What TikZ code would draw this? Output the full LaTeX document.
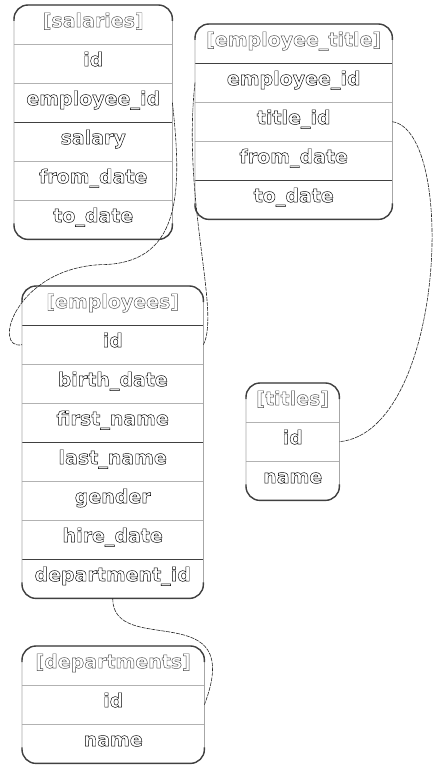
\documentclass[tikz,border=0pt]{standalone}
\usepackage{fontspec}
\setmainfont{DejaVu Sans}

\tikzset{
  field/.style={minimum width=#1, minimum height=39pt, inner sep=0pt,
    text height=13pt, text depth=8pt, anchor=north west,
    font=\fontsize{19}{22}\selectfont\bfseries,
    execute at begin node={\special{pdf:literal direct 1 Tr 0.45 w}},
    execute at end node={\special{pdf:literal direct 0 Tr}}},
  tabletitle/.style={text=black!70},
  septhin/.style={draw=black!30, line width=0.6pt},
  septhick/.style={draw=black!75, line width=1.4pt},
  edgeside/.style={draw=black!35, line width=0.7pt},
  edgetop/.style={draw=black!75, line width=1.4pt},
  link/.style={draw=black!85, line width=0.6pt, dash pattern=on 4pt off 1pt}
}

% frame of one table, from its first to its last field
\newcommand\tableframe[2]{
  \draw[edgeside, rounded corners=14pt] (#1.north west) rectangle (#2.south east);
  \draw[edgetop, rounded corners=14pt] ([yshift=-16pt]#1.north west) |- (#1.north east) -- ([yshift=-16pt]#1.north east);
  \draw[edgetop, rounded corners=14pt] ([yshift=16pt]#2.south west) |- (#2.south east) -- ([yshift=16pt]#2.south east);
}

\begin{document}
\begin{tikzpicture}[x=1pt,y=-1pt]
\useasboundingbox (0,0) rectangle (433,768);

% salaries
\node[field=158pt, tabletitle] (sal-title) at (14,5) {[salaries]};
\foreach \name/\txt [count=\i] in {id/id, empid/employee\_id, salary/salary, from/from\_date, to/to\_date}
  \node[field=158pt] (sal-\name) at (14,5+39*\i) {\txt};
\foreach \name/\sep in {title/septhin, id/septhin, empid/septhick, salary/septhin, from/septhin}
  \draw[\sep] (sal-\name.south west) -- (sal-\name.south east);
\tableframe{sal-title}{sal-to}

% employee_title
\node[field=197pt, tabletitle] (et-title) at (195,24) {[employee\_title]};
\foreach \name/\txt [count=\i] in {empid/employee\_id, tid/title\_id, from/from\_date, to/to\_date}
  \node[field=197pt] (et-\name) at (195,24+39*\i) {\txt};
\foreach \name/\sep in {title/septhick, empid/septhin, tid/septhin, from/septhick}
  \draw[\sep] (et-\name.south west) -- (et-\name.south east);
\tableframe{et-title}{et-to}

% employees
\node[field=181pt, tabletitle] (emp-title) at (22,286) {[employees]};
\foreach \name/\txt [count=\i] in {id/id, birth/birth\_date, first/first\_name, last/last\_name, gender/gender, hire/hire\_date, dept/department\_id}
  \node[field=181pt] (emp-\name) at (22,286+39*\i) {\txt};
\foreach \name/\sep in {title/septhick, id/septhin, birth/septhin, first/septhick, last/septhin, gender/septhin, hire/septhick}
  \draw[\sep] (emp-\name.south west) -- (emp-\name.south east);
\tableframe{emp-title}{emp-dept}

% titles
\node[field=93pt, tabletitle] (tit-title) at (246,383) {[titles]};
\foreach \name/\txt [count=\i] in {id/id, name/name}
  \node[field=93pt] (tit-\name) at (246,383+39*\i) {\txt};
\foreach \name in {title, id}
  \draw[septhin] (tit-\name.south west) -- (tit-\name.south east);
\tableframe{tit-title}{tit-name}

% departments
\node[field=182pt, tabletitle] (dep-title) at (22,646) {[departments]};
\foreach \name/\txt [count=\i] in {id/id, name/name}
  \node[field=182pt] (dep-\name) at (22,646+39*\i) {\txt};
\foreach \name in {title, id}
  \draw[septhin] (dep-\name.south west) -- (dep-\name.south east);
\tableframe{dep-title}{dep-name}

% links
\draw[link] (sal-empid.east) .. controls +(10,90) and +(82,0) .. ++(-73,162)
  .. controls +(-85,5) and +(-30,6) .. (emp-id.west);
\draw[link] (et-empid.west) .. controls +(-13,117) and +(17,-33) .. (emp-id.east);
\draw[link] (et-tid.east) .. controls +(65,10) and +(105,-10) .. (tit-id.east);
\draw[link] (emp-dept.south) .. controls +(0,60) and +(42,-110) .. (dep-id.east);
\end{tikzpicture}
\end{document}
